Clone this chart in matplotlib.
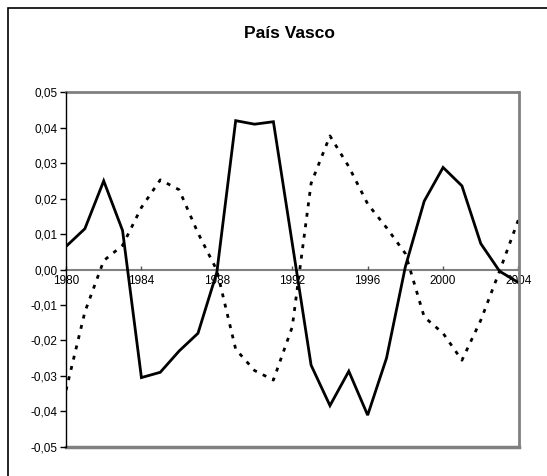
import matplotlib
matplotlib.use("Agg")
import matplotlib.pyplot as plt
from matplotlib.patches import Rectangle
from matplotlib.ticker import FuncFormatter, MultipleLocator

years = list(range(1980, 2005))
solid_series = [0.0065, 0.0115, 0.025, 0.011, -0.0305, -0.029, -0.023, -0.018,
                -0.0008, 0.042, 0.041, 0.0417, 0.0074, -0.027, -0.0384, -0.0287,
                -0.0411, -0.025, 0.0008, 0.0193, 0.0288, 0.0236, 0.0073, -0.0005,
                -0.0037]
dotted_series = [-0.0341, -0.012, 0.0025, 0.0068, 0.0175, 0.0253, 0.0225, 0.0103,
                 -0.0002, -0.0225, -0.0285, -0.0312, -0.0162, 0.0243, 0.0377,
                 0.029, 0.0185, 0.0118, 0.0045, -0.0134, -0.018, -0.0256,
                 -0.0143, -0.0004, 0.0141]
x_ticks = [1980, 1984, 1988, 1992, 1996, 2000, 2004]
title = "País Vasco"

plt.rcParams['font.family'] = ['Liberation Sans', 'DejaVu Sans']

fig = plt.figure(figsize=(5.47, 4.76), dpi=100)
W, H = 547, 476

# outer chart frame (right and bottom edges fall outside the image)
fig.patches.append(Rectangle((8 / W, -0.05), 1.2, 1 - 8 / H + 0.05,
                             transform=fig.transFigure, fill=False,
                             edgecolor='black', linewidth=1.2))

left, right, top, bottom = 66, 518.5, 92.3, 446.7
ax = fig.add_axes([left / W, 1 - bottom / H, (right - left) / W, (bottom - top) / H])

ax.plot(years, solid_series, color='black', linewidth=2.0, solid_joinstyle='miter')
ax.plot(years, dotted_series, color='black', linewidth=2.0, linestyle=(0, (1.4, 2.4)))

ax.set_xlim(1980, 2004)
ax.set_ylim(-0.05, 0.05)
ax.yaxis.set_major_locator(MultipleLocator(0.01))
ax.yaxis.set_major_formatter(FuncFormatter(lambda v, p: f"{v:.2f}".replace('.', ',').replace('-0,00', '0,00')))
ax.set_xticks(x_ticks)
ax.set_xticklabels([str(t) for t in x_ticks])

for s in ['top', 'right']:
    ax.spines[s].set_color('#808080')
    ax.spines[s].set_linewidth(2.0)
ax.spines['left'].set_color('black')
ax.spines['left'].set_linewidth(1.0)
ax.spines['left'].set_zorder(3)

# category axis sits on the zero line
ax.axhline(-0.05, color='#808080', linewidth=2.5, zorder=1, clip_on=False)
ax.spines['bottom'].set_position(('data', 0))
ax.spines['bottom'].set_color('#808080')
ax.spines['bottom'].set_linewidth(1.5)
ax.spines['bottom'].set_zorder(1)

ax.tick_params(axis='y', direction='out', length=4, width=1, color='black',
               labelsize=8.5, pad=2)
ax.tick_params(axis='x', direction='in', length=3, width=1, color='#555555',
               labelsize=8.5, pad=4)

fig.text((left + right) / 2 / W - 0.005, 1 - 34 / H, title, ha='center', va='center',
         fontsize=12.5, fontweight='bold')

fig.savefig("out.png", dpi=100)
